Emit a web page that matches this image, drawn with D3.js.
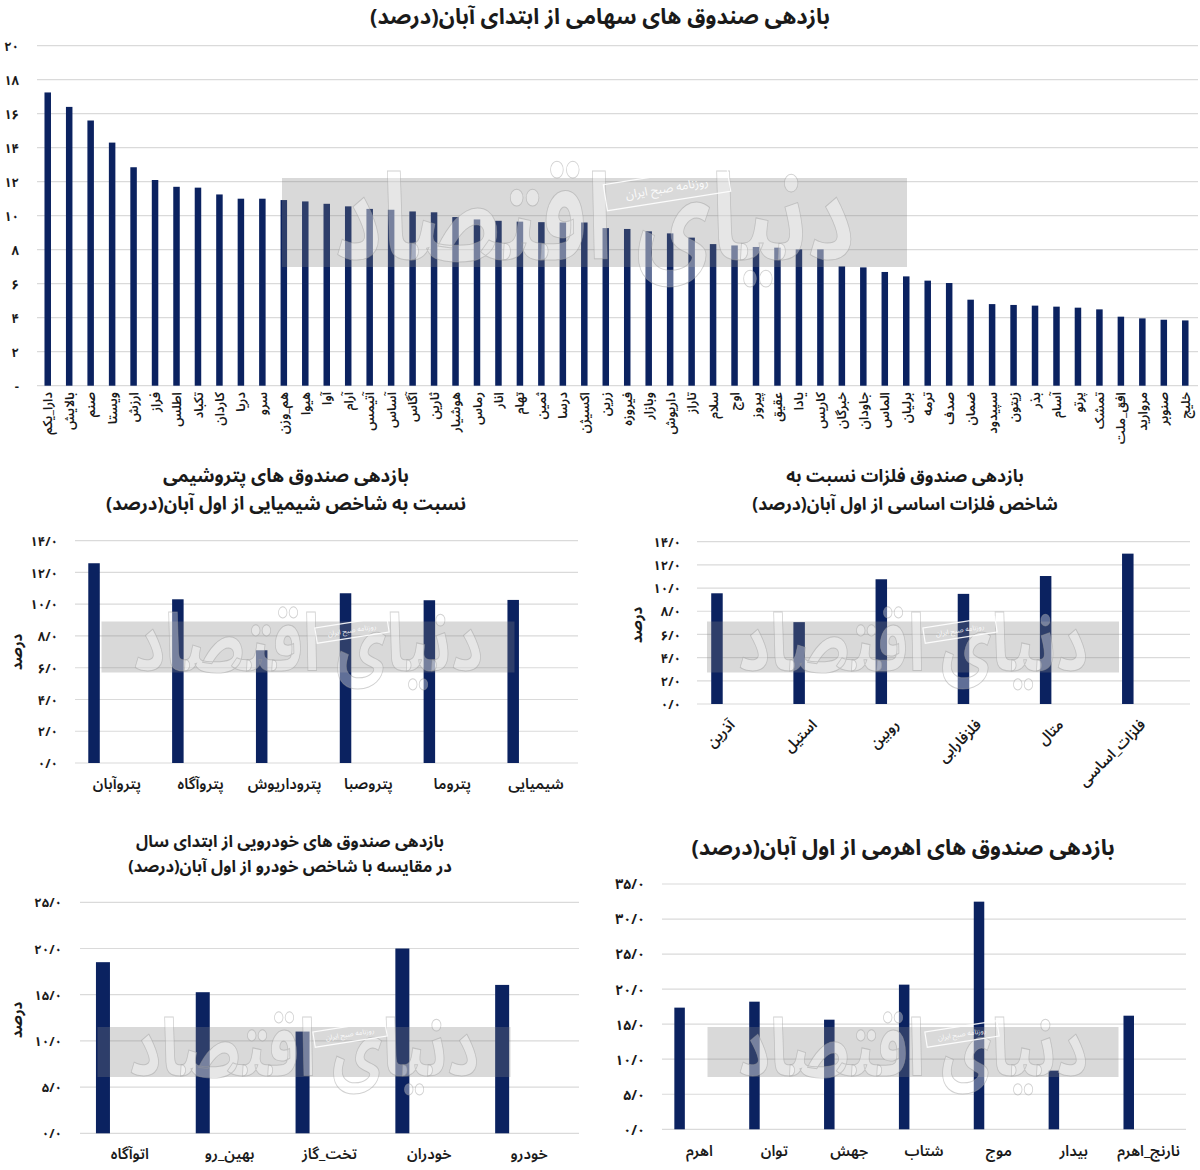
<!DOCTYPE html>
<html>
<head>
<meta charset="utf-8">
<script src="https://cdn.jsdelivr.net/npm/d3@7"></script>
<style>
body{margin:0;background:#fff;}
svg text{font-family:"Noto Sans Arabic","Vazirmatn","DejaVu Sans",sans-serif;fill:#1a1a1a;}
</style>
</head>
<body>
<svg id="chart" width="1200" height="1170"></svg>
<script>
// --- data ---
var stockFunds = ['دارا_یکم','بالایش','صنم','ویستا','ارزش','فراز','اطلس','تکباد','کاردان','دریا','سرو','هم_وزن','هیوا','آوا','آرام','آتیمس','آساس','آگاس','ثارین','هوشیار','رماس','انار','تهام','ثمین','درسا','اکسیژن','زرین','فیروزه','وبازار','داریوش','تاراز','سلام','اوج','پیروز','عقیق','یادا','کاریس','خبرگان','جاودان','الماس','برلیان','ترمه','صدف','ضمان','سپیدود','زیتون','بذر','آسام','پرتو','تمشک','افق_ملت','مروارید','صنوبر','خلیج'];
var stockReturns = [17.25,16.4,15.6,14.3,12.85,12.1,11.7,11.65,11.25,11.0,11.0,10.92,10.84,10.7,10.55,10.4,10.35,10.25,10.2,9.92,9.78,9.7,9.65,9.62,9.6,9.6,9.27,9.22,9.08,8.96,8.71,8.33,8.25,8.16,8.12,8.02,8.02,7.02,6.96,6.69,6.43,6.18,6.04,5.06,4.8,4.75,4.71,4.65,4.59,4.49,4.06,3.96,3.88,3.84];
var stockTicks = [0,2,4,6,8,10,12,14,16,18,20];

var petroFunds = ['پتروآبان','پتروآگاه','پتروداریوش','پتروصبا','پتروما','شیمیایی'];
var petroReturns = [12.58,10.31,7.1,10.69,10.25,10.27];
var petroTicks = [0,2,4,6,8,10,12,14];

var metalFunds = ['آذرین','استیل','روبین','فلزفارابی','متال','فلزات_اساسی'];
var metalReturns = [9.55,7.06,10.76,9.5,11.04,12.97];
var metalTicks = [0,2,4,6,8,10,12,14];

var autoFunds = ['اتوآگاه','بهین_رو','تخت_گاز','خودران','خودرو'];
var autoReturns = [18.52,15.27,11.01,20.0,16.06];
var autoTicks = [0,5,10,15,20,25];

var levFunds = ['اهرم','توان','جهش','شتاب','موج','بیدار','نارنج_اهرم'];
var levReturns = [17.36,18.21,15.64,20.64,32.48,8.37,16.21];
var levTicks = [0,5,10,15,20,25,30,35];

var BAR = '#0b2260';
var svg = d3.select('#chart');

function fa(s){
    return String(s).replace(/[0-9]/g, function(d){ return '۰۱۲۳۴۵۶۷۸۹'[+d]; });
}
var fmtInt = function(d){ return d === 0 ? '-' : fa(d); };
var fmtDec = function(d){ return fa(d3.format('.1f')(d)).replace('.', '/'); };

function barPanel(o) {
    var g = svg.append('g');
    var x = d3.scaleBand().domain(o.cats).range([o.x0, o.x1]);
    var y = d3.scaleLinear().domain([0, d3.max(o.ticks)]).range([o.y0, o.y1]);

    g.append('g').selectAll('line').data(o.ticks).join('line')
        .attr('x1', o.x0).attr('x2', o.gridX1 || o.x1)
        .attr('y1', function(d){ return y(d); }).attr('y2', function(d){ return y(d); })
        .attr('stroke', '#dadada').attr('stroke-width', 1.2);

    var ay = g.append('g').attr('transform', 'translate(' + o.tickX + ',0)')
        .call(d3.axisLeft(y).tickValues(o.ticks).tickFormat(o.fmt).tickSize(0).tickPadding(0));
    ay.select('.domain').remove();
    ay.selectAll('text')
        .style('font-family', null)
        .attr('font-size', o.tickFs).attr('font-weight', 'bold').attr('fill', '#1a1a1a')
        .attr('dy', '0.35em');

    g.append('g').selectAll('rect').data(o.vals).join('rect')
        .attr('x', function(d, i){ return x(o.cats[i]) + x.bandwidth() * o.barPos - o.barW / 2; })
        .attr('width', o.barW)
        .attr('y', function(d){ return y(d); })
        .attr('height', function(d){ return y(0) - y(d); })
        .attr('fill', BAR);

    var ax = g.append('g').attr('transform', 'translate(0,' + o.labelY + ')')
        .call(d3.axisBottom(x).tickSize(0).tickPadding(0));
    ax.select('.domain').remove();
    var t = ax.selectAll('text')
        .style('font-family', null)
        .attr('font-size', o.labelFs).attr('font-weight', o.labelW || 600).attr('fill', '#1a1a1a');
    if (o.rotate === -90) {
        t.attr('text-anchor', 'end').attr('dy', '0.35em').attr('y', 0)
         .attr('transform', 'rotate(-90)');
    } else if (o.rotate === -45) {
        t.attr('text-anchor', 'end').attr('y', 0).attr('dy', '0.35em')
         .attr('transform', 'translate(-6,0) rotate(-45)');
    } else {
        t.attr('y', 0).attr('dy', '0.35em');
    }

    if (o.yTitle) {
        g.append('text')
            .attr('transform', 'translate(' + o.yTitle[0] + ',' + o.yTitle[1] + ') rotate(-90)')
            .attr('text-anchor', 'middle').attr('dy', '0.35em')
            .attr('font-size', 15).attr('font-weight', 'bold')
            .text('درصد');
    }

    // multi-line titles go in one text element
    var title = g.append('text')
        .attr('text-anchor', 'middle')
        .attr('font-size', o.titleFs).attr('font-weight', 'bold');
    o.title.forEach(function(line, i){
        title.append('tspan')
            .attr('x', o.titleX).attr('y', o.titleY + i * o.titleGap)
            .text(line);
    });
}

function watermark(cx, cy, w, h, tw, fs, bx, by, bs) {
    var g = svg.append('g').style('pointer-events', 'none');
    g.append('rect')
        .attr('x', cx - w / 2).attr('y', cy - h / 2).attr('width', w).attr('height', h)
        .attr('fill', '#808080').attr('fill-opacity', 0.3);
    g.append('text')
        .attr('x', cx).attr('y', cy).attr('text-anchor', 'middle').attr('dy', '0.3em')
        .attr('font-size', fs).attr('font-weight', 'bold')
        .attr('textLength', tw).attr('lengthAdjust', 'spacingAndGlyphs')
        .style('fill', '#ffffff').style('fill-opacity', 0.35)
        .attr('stroke', '#9a9a9a').attr('stroke-opacity', 0.45).attr('stroke-width', 1)
        .text('دنیای اقتصاد');
    var b = g.append('g').attr('transform', 'translate(' + bx + ',' + by + ') rotate(-9)');
    b.append('rect').attr('x', -bs * 5.2).attr('y', -bs * 1.1).attr('width', bs * 10.4).attr('height', bs * 2.2)
        .attr('fill', 'none').attr('stroke', '#fff').attr('stroke-width', 1.2).attr('stroke-opacity', 0.9);
    b.append('text').attr('text-anchor', 'middle').attr('dy', '0.35em')
        .attr('font-size', bs).style('fill', '#ffffff').style('fill-opacity', 0.9)
        .text('روزنامه صبح ایران');
}

// top chart
barPanel({
    cats: stockFunds, vals: stockReturns, ticks: stockTicks, fmt: fmtInt,
    x0: 37, x1: 1196, gridX1: 1198, y0: 385.7, y1: 45.7, tickX: 19, tickFs: 13,
    barW: 6.5, barPos: 0.5, labelY: 392, labelFs: 13, rotate: -90,
    title: ['بازدهی صندوق های سهامی از ابتدای آبان(درصد)'], titleX: 600, titleY: 24, titleGap: 0, titleFs: 22
});

// petrochemical
barPanel({
    cats: petroFunds, vals: petroReturns, ticks: petroTicks, fmt: fmtDec,
    x0: 75, x1: 578, y0: 763, y1: 540.7, tickX: 58, tickFs: 13,
    barW: 11.5, barPos: 0.227, labelY: 784, labelFs: 15, rotate: 0,
    yTitle: [17, 652],
    title: ['بازدهی صندوق های پتروشیمی', 'نسبت به شاخص شیمیایی از اول آبان(درصد)'],
    titleX: 286, titleY: 482, titleGap: 28, titleFs: 18.5
});

// metals
barPanel({
    cats: metalFunds, vals: metalReturns, ticks: metalTicks, fmt: fmtDec,
    x0: 697, x1: 1190, y0: 704, y1: 541.7, tickX: 681, tickFs: 13,
    barW: 11.5, barPos: 0.243, labelY: 722, labelFs: 14.5, rotate: -45,
    yTitle: [637, 625],
    title: ['بازدهی صندوق فلزات نسبت به', 'شاخص فلزات اساسی از اول آبان(درصد)'],
    titleX: 905, titleY: 482, titleGap: 28, titleFs: 17.5
});

// auto
barPanel({
    cats: autoFunds, vals: autoReturns, ticks: autoTicks, fmt: fmtDec,
    x0: 80, x1: 579, y0: 1133.3, y1: 902.3, tickX: 62, tickFs: 13,
    barW: 14, barPos: 0.23, labelY: 1154, labelFs: 15, rotate: 0,
    yTitle: [17, 1020],
    title: ['بازدهی صندوق های خودرویی از ابتدای سال', 'در مقایسه با شاخص خودرو از اول آبان(درصد)'],
    titleX: 290, titleY: 847, titleGap: 25, titleFs: 16.5
});

// leverage
barPanel({
    cats: levFunds, vals: levReturns, ticks: levTicks, fmt: fmtDec,
    x0: 662, x1: 1186, y0: 1129.3, y1: 884, tickX: 645, tickFs: 14,
    barW: 10.5, barPos: 0.235, labelY: 1151, labelFs: 15, rotate: 0,
    title: ['بازدهی صندوق های اهرمی از اول آبان(درصد)'],
    titleX: 903, titleY: 855, titleGap: 0, titleFs: 22
});

// watermarks
watermark(594.5, 222.5, 625, 89, 520, 120, 667, 188, 12);
watermark(308, 647, 413, 51, 350, 80, 352, 630, 7);
watermark(913, 647, 412, 51, 350, 80, 960, 630, 7);
watermark(304, 1052, 413, 50, 350, 80, 350, 1034, 7);
watermark(913, 1052, 411, 50, 350, 80, 962, 1034, 7);
</script>
</body>
</html>
